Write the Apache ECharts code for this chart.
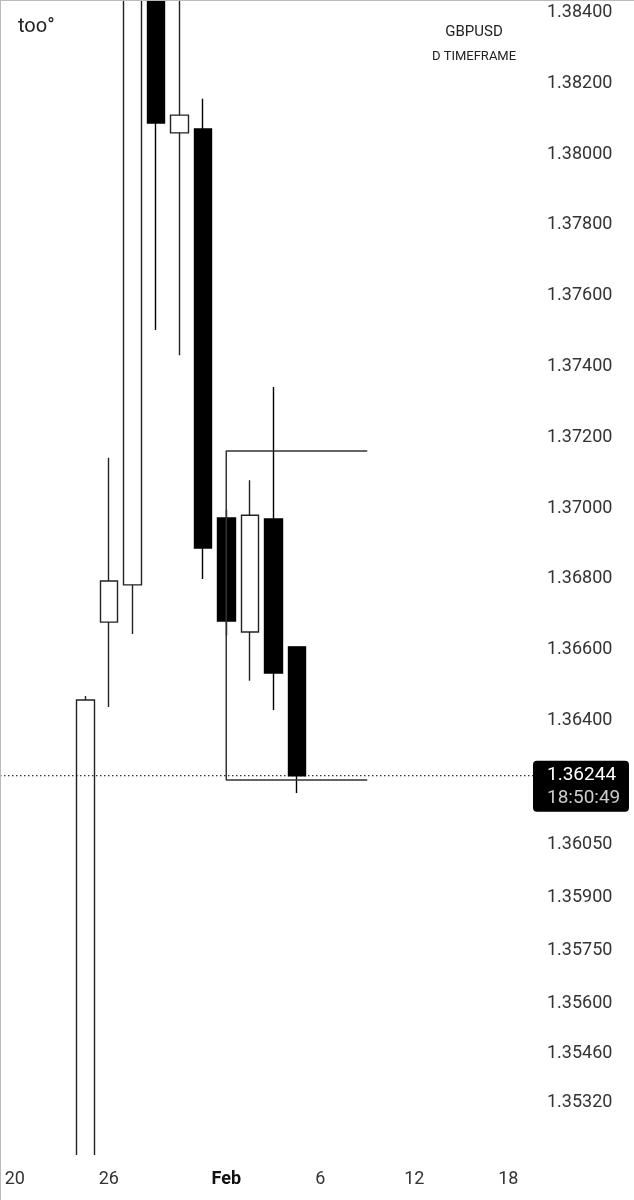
<!DOCTYPE html>
<html>
<head>
<meta charset="utf-8">
<script src="https://cdn.jsdelivr.net/npm/echarts@6/dist/echarts.min.js"></script>
<style>
html,body{margin:0;padding:0;background:#fff;}
#chart{width:634px;height:1200px;}
</style>
</head>
<body>
<div id="chart"></div>
<script>
// ---- data ----
const categories = ['01-20','01-21','01-22','01-23','01-26','01-27','01-28','01-29','01-30',
  '02-02','02-03','02-04','02-05','02-06','02-09','02-10','02-11','02-12','02-13','02-16','02-17','02-18'];
const xTickDates = ['01-20','01-26','02-02','02-06','02-12','02-18'];
const xTickLabels = ['20','26','Feb','6','12','18'];

const candleDates = ['01-23','01-26','01-27','01-28','01-29','01-30','02-02','02-03','02-04','02-05'];
const opens  = [1.35000, 1.36678, 1.36783, 1.38530, 1.38060, 1.38071, 1.36972, 1.36650, 1.36969, 1.36608];
const closes = [1.36458, 1.36794, 1.38560, 1.38088, 1.38110, 1.36887, 1.36681, 1.36980, 1.36534, 1.36244];
const lows   = [1.34950, 1.36438, 1.36644, 1.37503, 1.37432, 1.36800, 1.36640, 1.36512, 1.36430, 1.36195];
const highs  = [1.36469, 1.37142, 1.38680, 1.38700, 1.38500, 1.38156, 1.36995, 1.37079, 1.37342, 1.36608];

const yTicks = [1.38400,1.38200,1.38000,1.37800,1.37600,1.37400,1.37200,1.37000,1.36800,1.36600,1.36400,
  1.36050,1.35900,1.35750,1.35600,1.35460,1.35320];
const yMin = 1.351726, yMax = 1.384353;

const boxLeft = '02-02', boxRight = '02-10';
const boxTop = 1.37161, boxBottom = 1.36232;

const lastPrice = 1.36244;
const countdown = '18:50:49';
const symbolName = 'GBPUSD';
const timeframe = 'D TIMEFRAME';
const brand = 'too°';

// ---- chart ----
const chart = echarts.init(document.getElementById('chart'), null, {renderer:'canvas'});
const FONT = 'Roboto';
const candleData = candleDates.map((d,i)=>[d, opens[i], closes[i], lows[i], highs[i]]);
const bracket = [[boxRight, boxTop],[boxLeft, boxTop],[boxLeft, boxBottom],[boxRight, boxBottom]];

chart.setOption({
  animation:false,
  backgroundColor:'#fff',
  textStyle:{fontFamily:FONT},
  title:[
    {text:symbolName, left:469, top:20, textAlign:'center',
     textStyle:{fontFamily:FONT, fontSize:15, fontWeight:'normal', color:'#222'}},
    {text:timeframe, left:469, top:45, textAlign:'center',
     textStyle:{fontFamily:FONT, fontSize:13, fontWeight:'normal', color:'#222'}},
    {text:brand, left:13, top:12,
     textStyle:{fontFamily:FONT, fontSize:20, fontWeight:'normal', color:'#222'}}
  ],
  grid:{left:3, right:114, top:0, bottom:45, containLabel:false},
  xAxis:{
    type:'category', data:categories, boundaryGap:true, z:20,
    axisLine:{show:false}, axisTick:{show:false}, splitLine:{show:false},
    axisLabel:{
      interval:(idx,val)=>xTickDates.indexOf(val)>=0,
      formatter:(val)=>{const k=xTickDates.indexOf(val); const t=xTickLabels[k]; return t==='Feb'?'{b|'+t+'}':t;},
      margin:15, fontSize:18, color:'#333', fontFamily:FONT,
      rich:{b:{fontWeight:'bold', fontSize:18, color:'#111', fontFamily:FONT}}
    }
  },
  yAxis:{
    type:'value', position:'right', min:yMin, max:yMax, scale:true, z:20,
    axisLine:{show:false}, axisTick:{show:false}, splitLine:{show:false},
    axisLabel:{
      customValues:yTicks, showMinLabel:true, showMaxLabel:true,
      formatter:(v)=>v.toFixed(5), align:'left', margin:27,
      fontSize:18, color:'#333', fontFamily:FONT
    }
  },
  series:[
    {
      type:'candlestick', data:candleData, encode:{x:0, y:[1,2,3,4]},
      barWidth:18, clip:true,
      itemStyle:{color:'#fff', color0:'#000', borderColor:'#222', borderColor0:'#000',
        borderColorDoji:'#222', borderWidth:1.4}
    },
    {
      type:'line', data:bracket, symbol:'none', silent:true,
      lineStyle:{color:'#333', width:1.5}
    }
  ]
});

function addOverlay(){
  const py = chart.convertToPixel({yAxisIndex:0}, lastPrice);
  const pBottom = chart.convertToPixel({yAxisIndex:0}, yMin);
  chart.setOption({
    graphic:[
      {type:'rect', shape:{x:0, y:pBottom, width:634, height:1200-pBottom}, style:{fill:'#fff'}, z:10},
      {type:'line', shape:{x1:0, y1:0.5, x2:634, y2:0.5}, style:{stroke:'#bbb', lineWidth:1}, z:100},
      {type:'line', shape:{x1:0.5, y1:0, x2:0.5, y2:1200}, style:{stroke:'#bbb', lineWidth:1}, z:100},
      {type:'line', shape:{x1:0, y1:py, x2:533, y2:py}, style:{stroke:'#000', lineWidth:1, lineDash:[1.5,2.5]}, z:90},
      {type:'rect', shape:{x:533, y:py-15, width:96, height:51, r:4}, style:{fill:'#000'}, z:95},
      {type:'text', x:547, y:py, style:{text:lastPrice.toFixed(5), fill:'#fff', font:'19px Roboto', verticalAlign:'middle', align:'left'}, z:96},
      {type:'text', x:547, y:py+23, style:{text:countdown, fill:'#ccc', font:'19px Roboto', verticalAlign:'middle', align:'left'}, z:96}
    ]
  });
}
addOverlay();
</script>
</body>
</html>
